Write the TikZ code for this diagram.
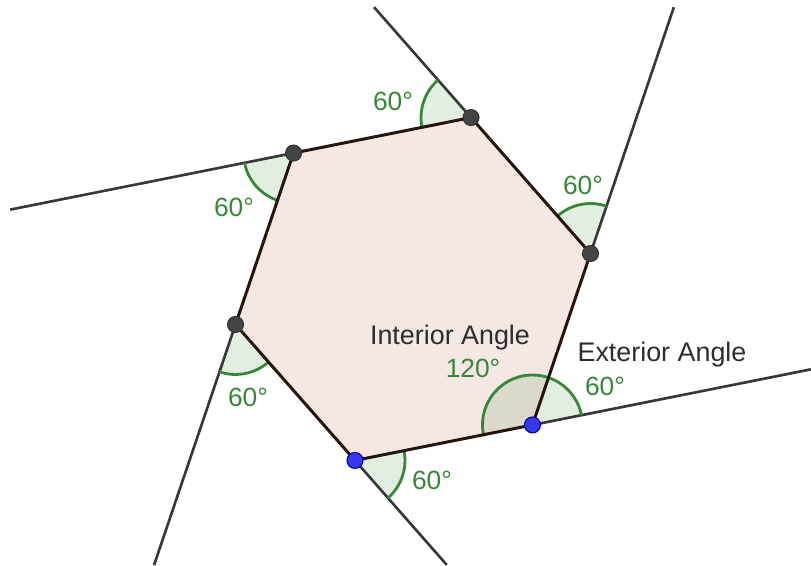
\documentclass[tikz,border=0pt]{standalone}
\usepackage{fontspec}
\setmainfont{Liberation Sans}
\definecolor{geoGreen}{RGB}{56,135,56}
\definecolor{hexFill}{RGB}{245,231,228}
\definecolor{sideCol}{RGB}{38,20,15}
\definecolor{lineCol}{RGB}{55,55,55}
\definecolor{ptDark}{RGB}{68,68,68}
\definecolor{ptBlue}{RGB}{55,55,235}
\definecolor{txtCol}{RGB}{45,45,45}
\begin{document}
\begin{tikzpicture}[x=0.02cm,y=0.02cm,
  extline/.style={draw=lineCol, line width=1.5pt},
  side/.style={draw=sideCol, line width=1.7pt, line join=round},
  angfill/.style={fill=geoGreen, fill opacity=0.14},
  angarc/.style={draw=geoGreen, line width=1.6pt},
  dot/.style={circle, inner sep=0pt, minimum size=0.32cm, line width=0.6pt},
  glabel/.style={text=geoGreen, font=\fontsize{15}{18}\selectfont, inner sep=0pt},
  tlabel/.style={text=txtCol, font=\fontsize{15.3}{18}\selectfont, inner sep=0pt}
]
\useasboundingbox (0,0) rectangle (811,565);
\coordinate (O) at (413,276);
\path (O) ++(11.3:181) coordinate (C);
\path (O) ++(71.3:181) coordinate (B);
\path (O) ++(131.3:181) coordinate (A);
\path (O) ++(191.3:181) coordinate (F);
\path (O) ++(251.3:181) coordinate (E);
\path (O) ++(311.3:181) coordinate (D);
% extension ends
\path (A) ++(191.3:289) coordinate (eA);
\path (B) ++(131.3:147) coordinate (eB);
\path (C) ++(71.3:260) coordinate (eC);
\path (D) ++(11.3:284) coordinate (eD);
\path (E) ++(311.3:139) coordinate (eE);
\path (F) ++(251.3:254) coordinate (eF);
% hexagon fill
\fill[hexFill] (A) -- (B) -- (C) -- (D) -- (E) -- (F) -- cycle;
% angle sectors
\foreach \v/\a in {A/191.3, B/131.3, C/71.3, D/11.3, E/311.3, F/251.3}{
  \fill[angfill] (\v) -- ++(\a:50) arc[start angle=\a, end angle=\a+60, radius=1cm] -- cycle;
}
\fill[angfill] (D) -- ++(71.3:50) arc[start angle=71.3, end angle=191.3, radius=1cm] -- cycle;
% extension lines
\draw[extline] (A) -- (eA);
\draw[extline] (B) -- (eB);
\draw[extline] (C) -- (eC);
\draw[extline] (D) -- (eD);
\draw[extline] (E) -- (eE);
\draw[extline] (F) -- (eF);
% arcs
\foreach \v/\a in {A/191.3, B/131.3, C/71.3, E/311.3, F/251.3}{
  \draw[angarc] (\v) ++(\a:50) arc[start angle=\a, end angle=\a+60, radius=1cm];
}
\draw[angarc] (D) ++(11.3:50) arc[start angle=11.3, end angle=191.3, radius=1cm];
% sides
\draw[side] (A) -- (B) -- (C) -- (D) -- (E) -- (F) -- cycle;
% points
\node[dot, fill=ptDark, draw=black!80] (pA) at (A) {};
\node[dot, fill=ptDark, draw=black!80] (pB) at (B) {};
\node[dot, fill=ptDark, draw=black!80] (pC) at (C) {};
\node[dot, fill=ptDark, draw=black!80] (pF) at (F) {};
\node[dot, fill=ptBlue, draw=blue!60!black] (pD) at (D) {};
\node[dot, fill=ptBlue, draw=blue!60!black] (pE) at (E) {};
% labels
\node[glabel] (lB) at (393,464) {60°};
\node[glabel] (lA) at (234,358) {60°};
\node[glabel] (lC) at (583,380) {60°};
\node[glabel] (lF) at (248,168) {60°};
\node[glabel] (lE) at (432,85) {60°};
\node[glabel] (lD) at (605,179) {60°};
\node[glabel] (lI) at (473,197) {120°};
\node[tlabel] (tI) at (450,227) {Interior Angle};
\node[tlabel] (tE) at (662,210) {Exterior Angle};
\end{tikzpicture}
\end{document}
